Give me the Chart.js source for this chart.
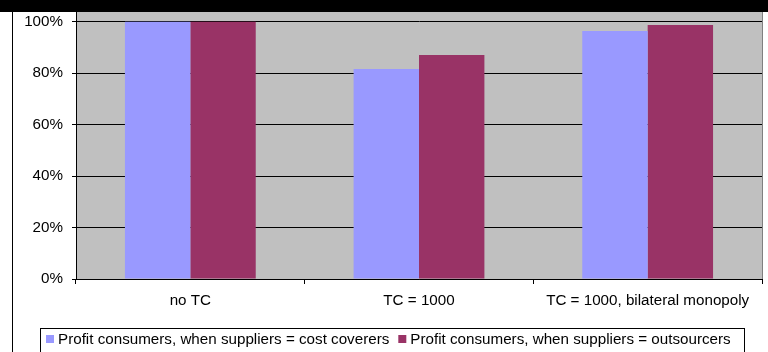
<!DOCTYPE html>
<html>
<head>
<meta charset="utf-8">
<script src="https://cdn.jsdelivr.net/npm/chart.js@4/dist/chart.umd.min.js"></script>
<style>
    body { margin: 0; background: #ffffff; }
    #wrap { position: relative; width: 768px; height: 352px; overflow: hidden; }
    #chart { position: absolute; left: 0; top: 0; }
    #band {
        position: absolute; left: 0; top: 0; width: 768px; height: 12px;
        background: #000000; overflow: hidden;
    }
    #band span {
        position: absolute; left: 60px; top: -25px; white-space: nowrap;
        font: bold 22px 'Liberation Sans', Arial, sans-serif; color: #ffff00;
    }
    #frame { position: absolute; left: 12px; top: 12px; width: 1px; height: 340px; background: #000000; }
</style>
</head>
<body>
<div id="wrap">
    <canvas id="chart" width="768" height="352"></canvas>
    <div id="band"><span>Relative profit of consumers, by type of suppliers (approx.)</span></div>
    <div id="frame"></div>
</div>
<script>
// Chart data
const categories = ['no TC', 'TC = 1000', 'TC = 1000, bilateral monopoly'];
const seriesNames = [
    'Profit consumers, when suppliers = cost coverers',
    'Profit consumers, when suppliers = outsourcers',
];
const costCoverers = [1.0, 0.816, 0.964];
const outsourcers = [1.0, 0.871, 0.987];
const yTicks = [0, 0.2, 0.4, 0.6, 0.8, 1.0];
const seriesColors = ['#9999FF', '#993366'];

const FONT = "'Liberation Sans', Arial, sans-serif";
const FONT_SIZE = 15.2;

// gray plot background + right border
const plotBackground = {
    id: 'plotBackground',
    beforeDraw(chart) {
        const { ctx, chartArea: a } = chart;
        ctx.save();
        ctx.fillStyle = '#C0C0C0';
        ctx.fillRect(a.left, a.top, a.right - a.left, a.bottom - a.top);
        ctx.fillStyle = '#808080';
        ctx.fillRect(a.right, a.top, 1, a.bottom - a.top);
        ctx.restore();
    },
};

// boxed legend below the axis
const boxLegend = {
    id: 'boxLegend',
    afterDraw(chart) {
        const ctx = chart.ctx;
        ctx.save();
        ctx.font = FONT_SIZE + 'px ' + FONT;
        ctx.textBaseline = 'middle';
        ctx.fillStyle = '#ffffff';
        ctx.fillRect(40, 328, 705, 30);
        ctx.strokeStyle = '#000000';
        ctx.lineWidth = 1;
        ctx.strokeRect(40.5, 328.5, 704, 30);
        let x = 46;
        chart.data.datasets.forEach((ds) => {
            ctx.fillStyle = ds.backgroundColor;
            ctx.fillRect(x, 335, 8, 8);
            ctx.fillStyle = '#000000';
            ctx.fillText(ds.label, x + 12, 340);
            x += 12 + ctx.measureText(ds.label).width + 9;
        });
        ctx.restore();
    },
};

const ctx = document.getElementById('chart').getContext('2d');
new Chart(ctx, {
    type: 'bar',
    data: {
        labels: categories,
        datasets: [
            { label: seriesNames[0], data: costCoverers, backgroundColor: seriesColors[0] },
            { label: seriesNames[1], data: outsourcers, backgroundColor: seriesColors[1] },
        ],
    },
    options: {
        responsive: false,
        animation: false,
        events: [],
        layout: { padding: { top: 12, left: 0, right: 6, bottom: 43 } },
        datasets: {
            bar: { categoryPercentage: 0.572, barPercentage: 1.0, borderWidth: 0 },
        },
        plugins: {
            legend: { display: false },
            tooltip: { enabled: false },
        },
        scales: {
            x: {
                afterFit(scale) {
                    scale.height = 30;
                },
                grid: {
                    offset: true,
                    drawOnChartArea: false,
                    drawTicks: true,
                    tickLength: 5,
                    color: '#000000',
                },
                border: { color: '#000000', width: 1 },
                ticks: {
                    color: '#000000',
                    padding: 8,
                    maxRotation: 0,
                    font: { family: FONT, size: FONT_SIZE },
                },
            },
            y: {
                min: 0,
                max: 1.0377,
                afterFit(scale) {
                    scale.width = 76;
                    scale.paddingTop = 0;
                    scale.paddingBottom = 0;
                },
                afterBuildTicks(scale) {
                    scale.ticks = yTicks.map((v) => ({ value: v }));
                },
                grid: { color: '#000000', tickLength: 4, lineWidth: 1 },
                border: { color: '#000000', width: 1 },
                ticks: {
                    color: '#000000',
                    padding: 9,
                    font: { family: FONT, size: FONT_SIZE },
                    callback: (v) => Math.round(v * 100) + '%',
                },
            },
        },
    },
    plugins: [plotBackground, boxLegend],
});
</script>
</body>
</html>
